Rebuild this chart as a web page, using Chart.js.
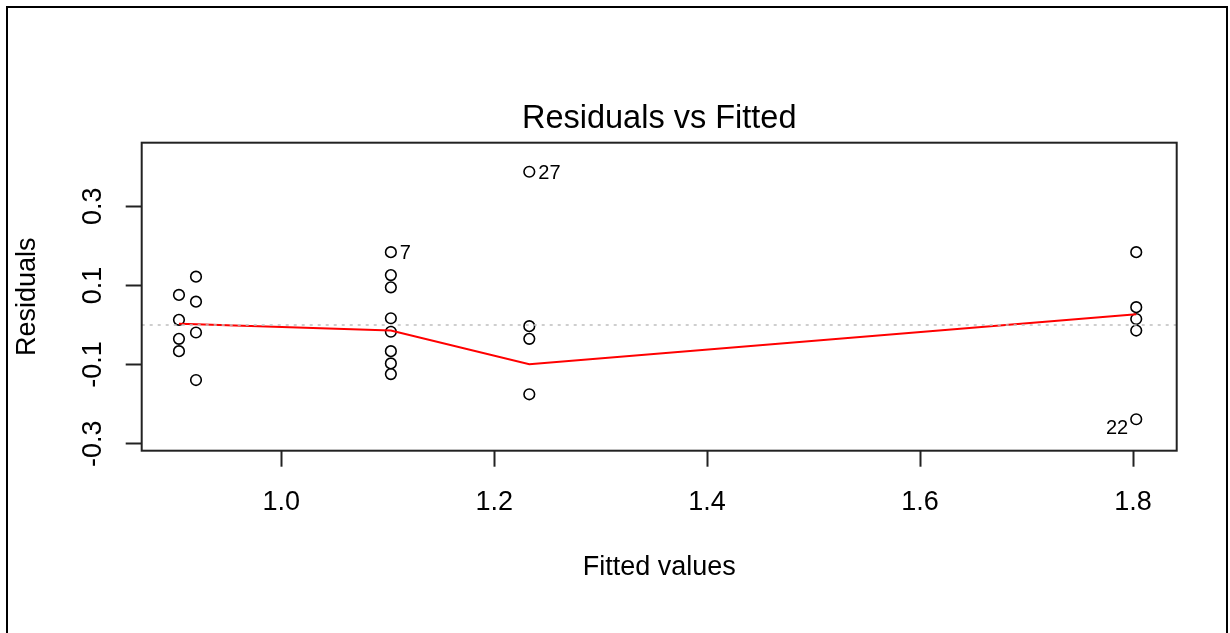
<!DOCTYPE html>
<html>
<head>
<meta charset="utf-8">
<script src="https://cdn.jsdelivr.net/npm/chart.js@4.4.1/dist/chart.umd.min.js"></script>
<style>
  html, body { margin: 0; padding: 0; background: #fff; }
  #wrap { position: relative; width: 1230px; height: 633px; overflow: hidden; }
  #frame { position: absolute; left: 6px; top: 6px; width: 1218px; height: 700px;
           border: 2px solid #000; border-bottom: none; pointer-events: none; }
</style>
</head>
<body>
<div id="wrap">
  <canvas id="grafico-residuos" width="1230" height="633"></canvas>
  <div id="frame"></div>
</div>
<script>
// valores
var fitted = [
  0.904, 0.904, 0.904, 0.904,
  0.920, 0.920, 0.920, 0.920,
  1.103, 1.103, 1.103, 1.103, 1.103, 1.103, 1.103, 1.103,
  1.233, 1.233, 1.233, 1.233,
  1.803, 1.803, 1.803, 1.803, 1.803
];
var residuals = [
  0.076, 0.013, -0.035, -0.066,
  0.122, 0.059, -0.019, -0.139,
  0.184, 0.126, 0.095, 0.017, -0.017, -0.066, -0.097, -0.124,
  0.387, -0.003, -0.035, -0.175,
  0.184, 0.045, 0.015, -0.014, -0.238
];
// curva suavizada (lowess)
var smoothX = [0.904, 0.920, 1.103, 1.233, 1.803];
var smoothY = [0.003, 0.002, -0.014, -0.099, 0.027];
// observacoes identificadas
var idLabels = ['27', '7', '22'];
var idPoints = [16, 8, 24];

var xTicks = [1.0, 1.2, 1.4, 1.6, 1.8];
var yTicks = [-0.3, -0.2, -0.1, 0, 0.1, 0.2, 0.3, 0.4];
var yTickLabels = [-0.3, -0.1, 0.1, 0.3];

var fonte = "'Liberation Sans', Arial, sans-serif";

function temRotulo(v) {
    return yTickLabels.some(t => Math.abs(t - v) < 1e-9);
}

var moldura = {
    id: 'moldura',
    afterDatasetsDraw(chart) {
        const { ctx, chartArea: a, scales: { x, y } } = chart;
        ctx.save();
        // linha pontilhada no zero
        const y0 = y.getPixelForValue(0);
        ctx.strokeStyle = '#bebebe';
        ctx.lineWidth = 1.5;
        ctx.setLineDash([3, 5]);
        ctx.beginPath();
        ctx.moveTo(a.left, y0);
        ctx.lineTo(a.right, y0);
        ctx.stroke();
        ctx.setLineDash([]);

        // caixa do grafico
        ctx.strokeStyle = '#222';
        ctx.lineWidth = 2;
        ctx.strokeRect(a.left, a.top, a.right - a.left, a.bottom - a.top);

        // rotulos dos pontos
        const meio = (Math.min(...fitted) + Math.max(...fitted)) / 2;
        ctx.fillStyle = '#000';
        ctx.font = '20px ' + fonte;
        ctx.textBaseline = 'middle';
        idPoints.forEach((k, i) => {
            const px = x.getPixelForValue(fitted[k]);
            const py = y.getPixelForValue(residuals[k]);
            const direita = fitted[k] <= meio;
            ctx.textAlign = direita ? 'left' : 'right';
            ctx.fillText(idLabels[i], px + (direita ? 9 : -8), py + (direita ? 1.5 : 9));
        });
        ctx.restore();
    }
};

function graficoResiduos() {
    var Residuos = document.querySelector("#grafico-residuos");

    new Chart(Residuos, {
        type: 'scatter',
        data: {
            datasets: [
                {
                    type: 'line',
                    data: smoothX.map((v, i) => ({ x: v, y: smoothY[i] })),
                    borderColor: '#ff0000',
                    borderWidth: 2,
                    pointRadius: 0,
                    fill: false,
                    tension: 0
                },
                {
                    type: 'scatter',
                    data: fitted.map((v, i) => ({ x: v, y: residuals[i] })),
                    pointStyle: 'circle',
                    pointRadius: 5.3,
                    borderColor: '#000',
                    borderWidth: 1.6,
                    backgroundColor: 'rgba(0,0,0,0)'
                }
            ]
        },
        options: {
            responsive: false,
            animation: false,
            events: [],
            layout: { padding: { left: 0, top: 0, right: 53.3, bottom: 0 } },
            plugins: {
                legend: { display: false },
                tooltip: { enabled: false },
                title: {
                    display: true,
                    text: 'Residuals vs Fitted',
                    fullSize: false,
                    color: '#000',
                    font: { family: fonte, size: 32.5, weight: 'normal' },
                    padding: { top: 99.5, bottom: 4.2 }
                }
            },
            scales: {
                x: {
                    type: 'linear',
                    min: 0.869,
                    max: 1.841,
                    afterBuildTicks: s => { s.ticks = xTicks.map(v => ({ value: v })); },
                    afterFit: s => { s.height = 182.3; },
                    grid: { drawOnChartArea: false, drawTicks: true, tickLength: 16, tickColor: '#222', tickWidth: 2 },
                    border: { display: false },
                    ticks: {
                        color: '#000',
                        padding: 20,
                        maxRotation: 0,
                        font: { family: fonte, size: 27 },
                        callback: v => v.toFixed(1)
                    },
                    title: {
                        display: true,
                        text: 'Fitted values',
                        color: '#000',
                        font: { family: fonte, size: 27 },
                        padding: { top: 0, bottom: 49 }
                    }
                },
                y: {
                    type: 'linear',
                    min: -0.3174,
                    max: 0.4603,
                    afterBuildTicks: s => { s.ticks = yTicks.map(v => ({ value: v })); },
                    afterFit: s => { s.width = 141.7; },
                    grid: { drawOnChartArea: false, drawTicks: true, tickLength: 16, tickColor: '#222', tickWidth: 2 },
                    border: { display: false },
                    ticks: {
                        color: '#000',
                        padding: 9,
                        minRotation: 90,
                        maxRotation: 90,
                        crossAlign: 'center',
                        font: { family: fonte, size: 27 },
                        callback: v => temRotulo(v) ? v.toFixed(1) : ''
                    },
                    title: {
                        display: true,
                        text: 'Residuals',
                        color: '#000',
                        font: { family: fonte, size: 27 },
                        padding: { top: 11.8, bottom: 0 }
                    }
                }
            }
        },
        plugins: [moldura]
    });
}

graficoResiduos();
</script>
</body>
</html>
